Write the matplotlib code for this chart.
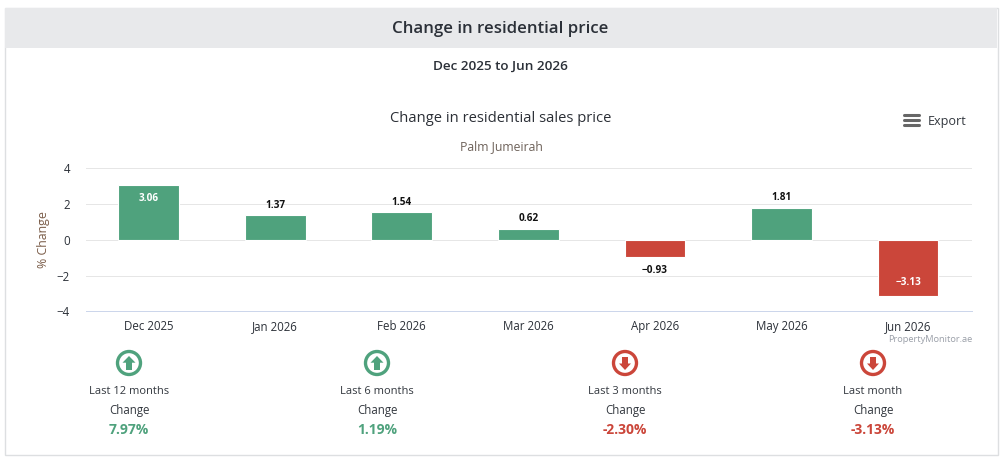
import matplotlib
matplotlib.use("Agg")
import matplotlib.pyplot as plt
from matplotlib.patches import Rectangle, Circle, Polygon

plt.rcParams['font.family'] = ['Open Sans', 'DejaVu Sans']

months = ["Dec 2025", "Jan 2026", "Feb 2026", "Mar 2026", "Apr 2026", "May 2026", "Jun 2026"]
changes = [3.06, 1.37, 1.54, 0.62, -0.93, 1.81, -3.13]
y_ticks = [-4, -2, 0, 2, 4]
period_names = ["Last 12 months", "Last 6 months", "Last 3 months", "Last month"]
period_changes = [7.97, 1.19, -2.30, -3.13]

GREEN = "#4fa27d"
RED = "#cb463a"
DARK = "#2b3038"
W, H = 1005, 462

fig = plt.figure(figsize=(W / 100, H / 100), dpi=100, facecolor="white")

# fondo en pixeles para el panel, los textos y los iconos
bg = fig.add_axes([0, 0, 1, 1])
bg.set_xlim(0, W)
bg.set_ylim(H, 0)
bg.axis("off")

bg.add_patch(Rectangle((4.5, 7.5), 993, 447, fc="white", ec="#dddfe1", lw=1))
bg.add_patch(Rectangle((5, 8), 992, 40, fc="#e8e9eb", ec="none"))
bg.text(500.5, 29, "Change in residential price", ha="center", va="center",
        fontsize=12.2, color=DARK, fontweight="semibold")
bg.text(500.5, 66.5, "Dec 2025 to Jun 2026", ha="center", va="center",
        fontsize=9.7, color=DARK, fontweight="semibold")
bg.text(501, 118, "Change in residential sales price", ha="center", va="center",
        fontsize=10.6, color="#2b2f36")
bg.text(501.5, 146.5, "Palm Jumeirah", ha="center", va="center", fontsize=8.8, color="#6e625a")
bg.text(43, 240, "% Change", ha="center", va="center", rotation=90, fontsize=8.9, color="#7a5c48")

# boton de exportar
for yy in [114.5, 119.5, 124.5]:
    bg.plot([903.5, 918.5], [yy, yy], color="#666666", lw=2.2, solid_capstyle="round")
bg.text(928, 121.5, "Export", ha="left", va="center", fontsize=9.1, color="#33383f")
bg.text(972, 340, "PropertyMonitor.ae", ha="right", va="center", fontsize=6.65, color="#9a9fa8")

# grafico de barras
ax = fig.add_axes([86 / W, 1 - 311.4 / H, 886 / W, (311.4 - 168.4) / H])
ax.set_xlim(-0.495, 6.505)
ax.set_ylim(-4, 4)
ax.patch.set_alpha(0)
colors = [GREEN if c > 0 else RED for c in changes]
ax.bar(range(len(months)), changes, width=0.48, color=colors, edgecolor="white", linewidth=0.8, zorder=3)
ax.set_yticks(y_ticks)
ax.set_yticklabels([str(t).replace("-", "\u2212") for t in y_ticks], fontsize=8.3, color=DARK)
ax.set_xticks(range(len(months)))
ax.set_xticklabels(months, fontsize=8.3, color=DARK, va="baseline")
ax.tick_params(length=0)
ax.tick_params(axis="x", pad=13.7)
ax.tick_params(axis="y", pad=11.5)
for lab in ax.get_yticklabels():
    lab.set_va("center_baseline")
ax.grid(axis="y", color="#e6e6e6", lw=0.72, zorder=0)
for name in ["top", "left", "right"]:
    ax.spines[name].set_visible(False)
ax.spines["bottom"].set_color("#ccd6eb")
ax.spines["bottom"].set_linewidth(0.72)

for i, c in enumerate(changes):
    label = f"{c:.2f}".replace("-", "\u2212")
    inside = abs(c) > 3
    if inside:
        offset = -13 if c > 0 else 13
        col = "white"
    else:
        offset = 10 if c > 0 else -14
        col = "#111111"
    ax.annotate(label, (i, c), xytext=(0, offset * 0.72), textcoords="offset points",
                ha="center", va="center", fontsize=7.2, fontweight="bold", color=col, zorder=4)

# resumen por periodo
summary_x = [129, 377, 625, 873]
for x, name, val in zip(summary_x, period_names, period_changes):
    col = GREEN if val > 0 else RED
    bg.add_patch(Circle((x, 363), 11.5, fc="white", ec=col, lw=2.4))
    if val > 0:
        pts = [(x, 356), (x + 6.5, 362.7), (x + 3, 362.7), (x + 3, 370), (x - 3, 370), (x - 3, 362.7), (x - 6.5, 362.7)]
    else:
        pts = [(x, 370), (x + 6, 363.5), (x + 3, 363.5), (x + 3, 357), (x - 3, 357), (x - 3, 363.5), (x - 6, 363.5)]
    bg.add_patch(Polygon(pts, closed=True, fc=col, ec="none"))
    bg.text(x, 391, name, ha="center", va="center", fontsize=8.0, color="#33383f")
    bg.text(x, 410.5, "Change", ha="center", va="center", fontsize=8.3, color="#33383f")
    bg.text(x, 430, f"{val:.2f}%", ha="center", va="center", fontsize=10, color=col, fontweight="bold")

fig.savefig("out.png", dpi=100)
